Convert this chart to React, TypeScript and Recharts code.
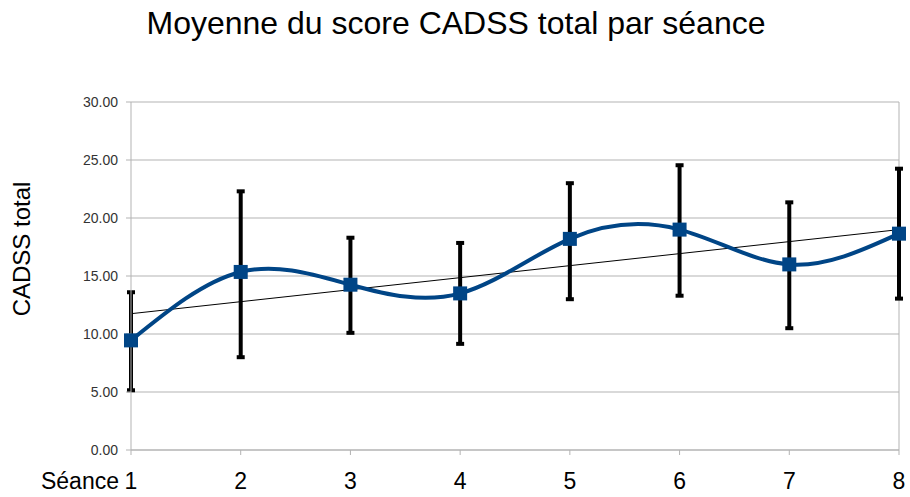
import React from 'react';
import {
  LineChart,
  Line,
  XAxis,
  YAxis,
  CartesianGrid,
  ErrorBar,
  ReferenceLine,
} from 'recharts';

const sessions = [1, 2, 3, 4, 5, 6, 7, 8];
const means = [9.45, 15.35, 14.25, 13.5, 18.2, 19.0, 16.0, 18.65];
const upper = [13.6, 22.3, 18.3, 17.85, 23.0, 24.55, 21.35, 24.25];
const lower = [5.15, 8.0, 10.1, 9.15, 13.0, 13.3, 10.5, 13.05];
// linear trend line, read at first and last session
const trendEnds = [11.75, 19.0];
const yTicks = [0, 5, 10, 15, 20, 25, 30];

const BLUE = '#004586';
const GRID = '#b3b3b3';
const FONT = '"Liberation Sans", Arial, sans-serif';

const data = sessions.map((s, i) => ({
  seance: s,
  moyenne: means[i],
  err: [means[i] - lower[i], upper[i] - means[i]],
  tendance: i === 0 ? trendEnds[0] : i === sessions.length - 1 ? trendEnds[1] : null,
}));

const SquareDot = (props: any) => {
  const { cx, cy, index } = props;
  if (cx == null || cy == null) return null;
  return <rect key={`dot-${index}`} x={cx - 7} y={cy - 7} width={14} height={14} fill={BLUE} />;
};

const XTick = ({ x, y, payload }: any) => (
  <g>
    <text x={x} y={y + 32} textAnchor="middle" fontSize={23} fill="#000" fontFamily={FONT}>
      {payload.value}
    </text>
    {payload.value === 1 && (
      <text x={x - 12} y={y + 32} textAnchor="end" fontSize={23} fill="#000" fontFamily={FONT}>
        Séance
      </text>
    )}
  </g>
);

export default function App() {
  return (
    <div style={{ position: 'absolute', left: 0, top: 0, width: 910, height: 497, background: '#fff' }}>
      <div
        style={{
          position: 'absolute',
          left: 0,
          top: 5,
          width: 912,
          textAlign: 'center',
          fontFamily: FONT,
          fontSize: 32,
          color: '#000',
        }}
      >
        Moyenne du score CADSS total par séance
      </div>
      <div
        style={{
          position: 'absolute',
          left: 22,
          top: 249,
          transform: 'translate(-50%, -50%) rotate(-90deg)',
          whiteSpace: 'nowrap',
          fontFamily: FONT,
          fontSize: 24,
          color: '#000',
        }}
      >
        CADSS total
      </div>
      <LineChart
        width={910}
        height={497}
        data={data}
        margin={{ top: 102, right: 11, left: 0, bottom: 0 }}
      >
        <CartesianGrid vertical={false} stroke={GRID} strokeWidth={1} />
        <XAxis
          dataKey="seance"
          type="number"
          domain={[1, 8]}
          ticks={sessions}
          stroke={GRID}
          tickSize={5}
          tick={<XTick />}
          height={47}
          interval={0}
        />
        <YAxis
          domain={[0, 30]}
          ticks={yTicks}
          width={131}
          stroke={GRID}
          tickSize={5}
          tickMargin={8}
          tickFormatter={(v: number) => v.toFixed(2)}
          tick={{ fontSize: 14, fill: '#333', fontFamily: FONT }}
        />
        <ReferenceLine x={8} stroke={GRID} />
        <Line
          dataKey="tendance"
          type="linear"
          stroke="#000"
          strokeWidth={1}
          dot={false}
          connectNulls
          isAnimationActive={false}
        />
        <Line
          dataKey="moyenne"
          type="natural"
          stroke={BLUE}
          strokeWidth={4}
          dot={SquareDot}
          isAnimationActive={false}
        >
          <ErrorBar dataKey="err" direction="y" width={4} strokeWidth={4} stroke="#000" />
        </Line>
      </LineChart>
    </div>
  );
}
